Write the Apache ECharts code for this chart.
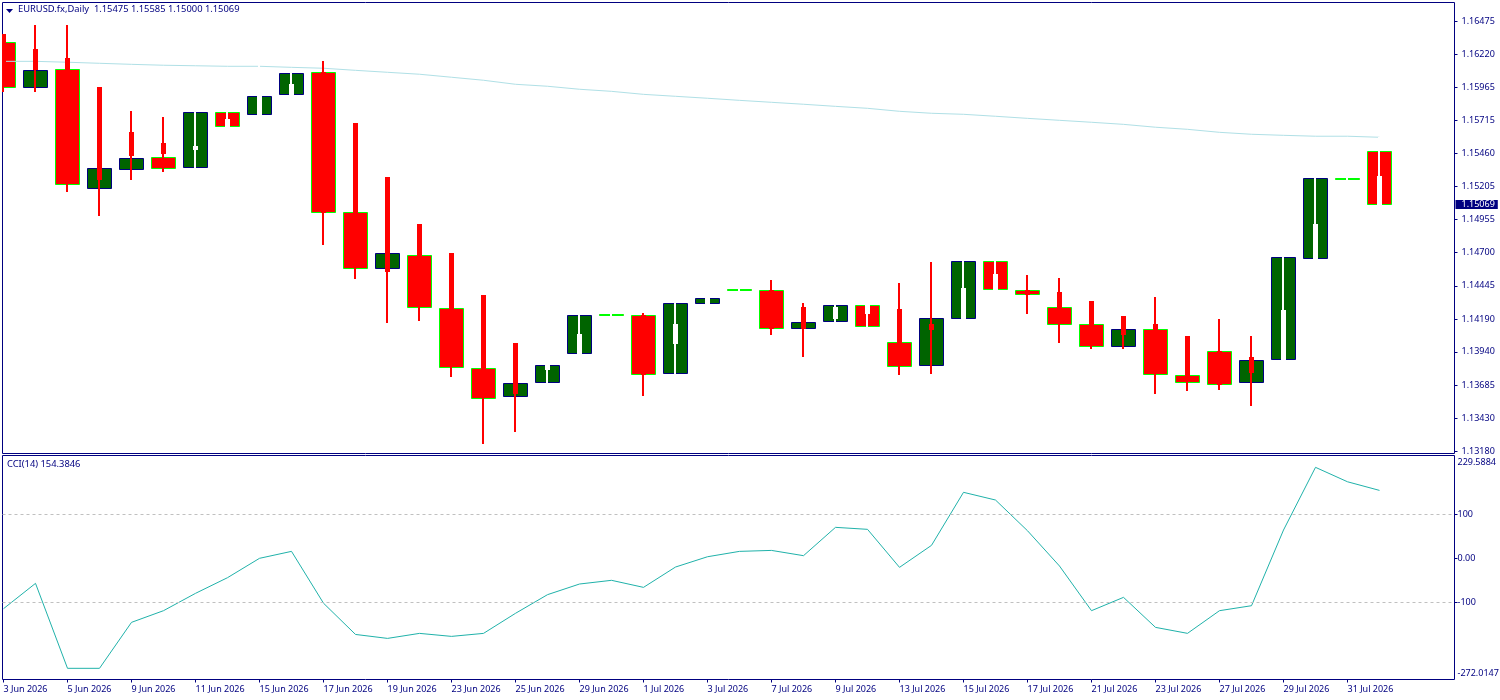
<!DOCTYPE html>
<html>
<head>
<meta charset="utf-8">
<title>EURUSD.fx Daily</title>
<script src="https://cdn.jsdelivr.net/npm/echarts@6/dist/echarts.min.js"></script>
<style>
  html, body { margin: 0; padding: 0; background: #fff; }
  #chart { width: 1500px; height: 700px; }
</style>
</head>
<body>
<div id="chart"></div>
<script>
const dates = ['3 Jun 2026','4 Jun 2026','5 Jun 2026','8 Jun 2026','9 Jun 2026','10 Jun 2026','11 Jun 2026','12 Jun 2026','15 Jun 2026','16 Jun 2026','17 Jun 2026','18 Jun 2026','19 Jun 2026','22 Jun 2026','23 Jun 2026','24 Jun 2026','25 Jun 2026','26 Jun 2026','29 Jun 2026','30 Jun 2026','1 Jul 2026','2 Jul 2026','3 Jul 2026','6 Jul 2026','7 Jul 2026','8 Jul 2026','9 Jul 2026','10 Jul 2026','13 Jul 2026','14 Jul 2026','15 Jul 2026','16 Jul 2026','17 Jul 2026','20 Jul 2026','21 Jul 2026','22 Jul 2026','23 Jul 2026','24 Jul 2026','27 Jul 2026','28 Jul 2026','29 Jul 2026','30 Jul 2026','31 Jul 2026','3 Aug 2026'];

const opens = [1.16314,1.15965,1.16103,1.15192,1.15337,1.15429,1.15352,1.15774,1.15759,1.15912,1.16080,1.15008,1.14578,1.14678,1.14272,1.13812,1.13598,1.13705,1.13927,1.14224,1.14218,1.13774,1.14310,1.14414,1.14410,1.14119,1.14172,1.14295,1.14011,1.13835,1.14195,1.14632,1.14410,1.14280,1.14149,1.13981,1.14111,1.13759,1.13942,1.13705,1.13881,1.14655,1.15267,1.15475];
const closes = [1.15965,1.16096,1.15222,1.15345,1.15421,1.15345,1.15774,1.15667,1.15897,1.16073,1.15008,1.14578,1.14693,1.14280,1.13820,1.13582,1.13697,1.13835,1.14218,1.14224,1.13766,1.14310,1.14349,1.14414,1.14119,1.14165,1.14295,1.14134,1.13828,1.14195,1.14632,1.14418,1.14379,1.14149,1.13981,1.14111,1.13766,1.13705,1.13690,1.13873,1.14663,1.15268,1.15267,1.15069];
const wickHighs = [1.16368,1.16444,1.16437,1.15962,1.15778,1.15732,1.15774,1.15774,1.16176,1.16073,1.16161,1.15693,1.15272,1.14919,1.14697,1.14375,1.14000,1.13835,1.14218,1.14224,1.14237,1.14310,1.14349,1.14414,1.14483,1.14314,1.14295,1.14295,1.14460,1.14628,1.14632,1.14632,1.14521,1.14498,1.14322,1.14214,1.14360,1.14054,1.14184,1.14054,1.14663,1.15268,1.15267,1.15585];
const wickLows = [1.15931,1.15935,1.15169,1.14985,1.15257,1.15322,1.15352,1.15667,1.15759,1.15912,1.14766,1.14498,1.14161,1.14180,1.13751,1.13237,1.13329,1.13705,1.13927,1.14224,1.13609,1.13774,1.14310,1.14414,1.14069,1.13904,1.14172,1.14134,1.13766,1.13774,1.14195,1.14418,1.14230,1.14015,1.13962,1.13962,1.13624,1.13640,1.13655,1.13525,1.13881,1.14655,1.15267,1.15000];
const stickHighs = [1.16368,1.16253,1.16184,1.15962,1.15617,1.15533,1.15517,1.15724,1.15897,1.15985,1.16080,1.15693,1.15272,1.14919,1.14697,1.14375,1.14000,1.13835,1.14069,1.14224,1.14218,1.14146,1.14349,1.14414,1.14410,1.14283,1.14283,1.14295,1.14268,1.14146,1.14429,1.14536,1.14410,1.14398,1.14322,1.14207,1.14146,1.14054,1.13942,1.13900,1.14253,1.14912,1.15267,1.15287];
const stickLows = [1.16146,1.16107,1.16103,1.15264,1.15448,1.15456,1.15494,1.15667,1.15759,1.15912,1.15008,1.15008,1.14559,1.14678,1.14272,1.13812,1.13624,1.13808,1.13927,1.14224,1.13766,1.14000,1.14310,1.14414,1.14119,1.14122,1.14199,1.14237,1.14011,1.14111,1.14195,1.14418,1.14379,1.14280,1.14149,1.14069,1.14111,1.13759,1.13690,1.13785,1.13881,1.14655,1.15267,1.15069];
// bars whose wick is drawn in the background colour
const whiteWickBars = [6,7,8,9,17,18,19,21,22,23,26,27,30,31,40,41,42,43];

const maValues = [1.16166,1.16166,1.16159,1.16151,1.16143,1.16136,1.16132,1.16128,1.16128,1.16120,1.16113,1.16097,1.16082,1.16067,1.16044,1.16021,1.15990,1.15975,1.15952,1.15936,1.15913,1.15898,1.15883,1.15867,1.15852,1.15837,1.15821,1.15806,1.15783,1.15768,1.15760,1.15745,1.15729,1.15714,1.15699,1.15683,1.15661,1.15645,1.15622,1.15607,1.15599,1.15592,1.15592,1.15584];
const cciValues = [-114.5,-56.9,-250,-250,-145.5,-119,-79.6,-44,0,15.8,-102,-173,-182,-170.6,-177.4,-170.6,-125,-82.6,-58.4,-50,-66,-19.8,3.6,15.8,18,6,70.4,65.9,-20.5,29.5,150,132.5,62.7,-17.5,-119,-88.7,-156.9,-170.5,-119,-107.7,64.3,206.8,174,154.3846];

const priceTicks = [1.16475,1.16220,1.15965,1.15715,1.15460,1.15205,1.14955,1.14700,1.14445,1.14190,1.13940,1.13685,1.13430,1.13180];
const lastPrice = 1.15069;
const lastOhlc = ['1.15475','1.15585','1.15000','1.15069'];
const cciLevels = [100,-100];
const cciTicks = [100,0,-100];
const cciRangeLabels = [229.5884,-272.0147];
const dateTicks = [0,2,4,6,8,10,12,14,16,18,20,22,24,26,28,30,32,34,36,38,40,42];

const NAVY = '#000080';
const FONT = 'Noto Sans';
const AXIS_SIZE = 9;
const TITLE_SIZE = 9.35;

const barRows = dates.map(function (d, i) {
  return [i, opens[i], closes[i], wickHighs[i], wickLows[i], stickHighs[i], stickLows[i], whiteWickBars.indexOf(i) >= 0 ? 1 : 0];
});

const chart = echarts.init(document.getElementById('chart'), null, { renderer: 'canvas' });

function halfPixel(v) {
  return Math.round(v - 0.5) + 0.5;
}

function renderBody(params, api) {
  const x = api.coord([api.value(0), api.value(1)])[0];
  const open = api.value(1);
  const close = api.value(2);
  const top = halfPixel(api.coord([0, Math.max(open, close)])[1]);
  const bottom = halfPixel(api.coord([0, Math.min(open, close)])[1]);
  const up = close > open;
  return {
    type: 'rect',
    shape: { x: Math.round(x - 12.5) + 0.5, y: top, width: 24, height: Math.max(1, bottom - top) },
    style: {
      fill: up ? '#006400' : '#ff0000',
      stroke: up ? NAVY : '#00ff00',
      lineWidth: 1
    }
  };
}

function renderWick(params, api) {
  const x = Math.floor(api.coord([api.value(0), 0])[0]);
  const color = api.value(7) ? '#ffffff' : '#ff0000';
  const children = [];
  const wickTop = Math.floor(api.coord([0, api.value(3)])[1]);
  const wickBottom = Math.ceil(api.coord([0, api.value(4)])[1]);
  children.push({
    type: 'rect',
    shape: { x: x - 1, y: wickTop, width: 2, height: Math.max(2, wickBottom - wickTop) },
    style: { fill: color }
  });
  if (api.value(5) !== api.value(6)) {
    const stickTop = Math.floor(api.coord([0, api.value(5)])[1]);
    const stickBottom = Math.ceil(api.coord([0, api.value(6)])[1]);
    children.push({
      type: 'rect',
      shape: { x: x - 2, y: stickTop, width: 5, height: stickBottom - stickTop },
      style: { fill: color }
    });
  }
  return { type: 'group', children: children };
}

const option = {
  animation: false,
  backgroundColor: '#ffffff',
  textStyle: { fontFamily: FONT },
  title: [
    {
      text: 'EURUSD.fx,Daily  ' + lastOhlc.join(' '),
      left: 18, top: 5, padding: 0,
      textStyle: { fontFamily: FONT, fontSize: TITLE_SIZE, fontWeight: 'normal', color: NAVY }
    },
    {
      text: 'CCI(14) ' + cciValues[cciValues.length - 1].toFixed(4),
      left: 7, top: 460, padding: 0,
      textStyle: { fontFamily: FONT, fontSize: TITLE_SIZE, fontWeight: 'normal', color: NAVY }
    }
  ],
  graphic: [
    { type: 'polygon', shape: { points: [[6, 9], [13, 9], [9.5, 13]] }, style: { fill: NAVY } }
  ],
  grid: [
    { left: 2.5, top: 2.5, width: 1452, height: 451, outerBoundsMode: 'none', show: true, borderColor: NAVY, borderWidth: 1, backgroundColor: '#ffffff' },
    { left: 2.5, top: 455.5, width: 1452, height: 224, outerBoundsMode: 'none', show: true, borderColor: NAVY, borderWidth: 1, backgroundColor: '#ffffff' }
  ],
  xAxis: [
    {
      type: 'value', gridIndex: 0, min: -0.03125, max: 45.34375, show: false, splitLine: { show: false }
    },
    {
      type: 'value', gridIndex: 1, min: -0.03125, max: 45.34375,
      splitLine: { show: false },
      axisLine: { show: false, onZero: false },
      axisTick: { show: true, length: 3, lineStyle: { color: NAVY }, customValues: dateTicks },
      axisLabel: {
        customValues: dateTicks,
        align: 'left',
        margin: 5,
        color: NAVY,
        fontFamily: FONT,
        fontSize: AXIS_SIZE,
        hideOverlap: false,
        formatter: function (v) { return dates[v]; }
      }
    }
  ],
  yAxis: [
    {
      type: 'value', gridIndex: 0, position: 'right', min: 1.131608, max: 1.166168, scale: true,
      splitLine: { show: false },
      axisLine: { show: false, onZero: false },
      axisTick: { show: true, length: 3, lineStyle: { color: NAVY }, customValues: priceTicks },
      axisLabel: {
        customValues: priceTicks.concat([lastPrice]),
        margin: 1,
        color: NAVY,
        fontFamily: FONT,
        fontSize: AXIS_SIZE,
        formatter: function (v) {
          if (v === lastPrice) return '{last|' + v.toFixed(5) + '}';
          return '{tick|' + v.toFixed(5) + '}';
        },
        rich: {
          tick: { padding: [0, 0, 0, 6], color: NAVY, fontFamily: FONT, fontSize: AXIS_SIZE },
          last: { padding: [0, 3, 0, 6], color: '#ffffff', backgroundColor: NAVY, fontFamily: FONT, fontSize: AXIS_SIZE }
        }
      }
    },
    {
      type: 'value', gridIndex: 1, position: 'right', min: -275.4, max: 233.7,
      splitLine: { show: false },
      axisLine: { show: false, onZero: false },
      axisTick: { show: true, length: 3, lineStyle: { color: NAVY }, customValues: cciTicks },
      axisLabel: {
        customValues: cciRangeLabels.concat(cciTicks),
        margin: 3,
        color: NAVY,
        fontFamily: FONT,
        fontSize: AXIS_SIZE,
        formatter: function (v) {
          if (v === cciRangeLabels[0]) return '{hi|' + v.toFixed(4) + '}';
          if (v === cciRangeLabels[1]) return '{lo|' + v.toFixed(4) + '}';
          return v === 0 ? '0.00' : String(v);
        },
        rich: {
          hi: { padding: [11, 0, 0, 0], color: NAVY, fontFamily: FONT, fontSize: AXIS_SIZE },
          lo: { padding: [0, 0, 9, 0], color: NAVY, fontFamily: FONT, fontSize: AXIS_SIZE }
        }
      }
    }
  ],
  series: [
    {
      name: 'body', type: 'custom', xAxisIndex: 0, yAxisIndex: 0, clip: true, z: 2,
      renderItem: renderBody, encode: { x: 0, y: [1, 2] }, data: barRows
    },
    {
      name: 'MA', type: 'line', xAxisIndex: 0, yAxisIndex: 0, z: 3, showSymbol: false,
      lineStyle: { color: '#b0e0e6', width: 1 },
      data: maValues.map(function (v, i) { return [i, v]; })
    },
    {
      name: 'wick', type: 'custom', xAxisIndex: 0, yAxisIndex: 0, clip: true, z: 4,
      renderItem: renderWick, encode: { x: 0, y: [3, 4] }, data: barRows
    },
    {
      name: 'CCI(14)', type: 'line', xAxisIndex: 1, yAxisIndex: 1, z: 3, showSymbol: false,
      lineStyle: { color: '#20b2aa', width: 1 },
      data: cciValues.map(function (v, i) { return [i, v]; }),
      markLine: {
        silent: true, symbol: 'none', animation: false, label: { show: false },
        lineStyle: { color: '#c0c0c0', type: [3, 3], width: 1 },
        data: cciLevels.map(function (v) { return { yAxis: v }; })
      }
    }
  ]
};

chart.setOption(option);
</script>
</body>
</html>
